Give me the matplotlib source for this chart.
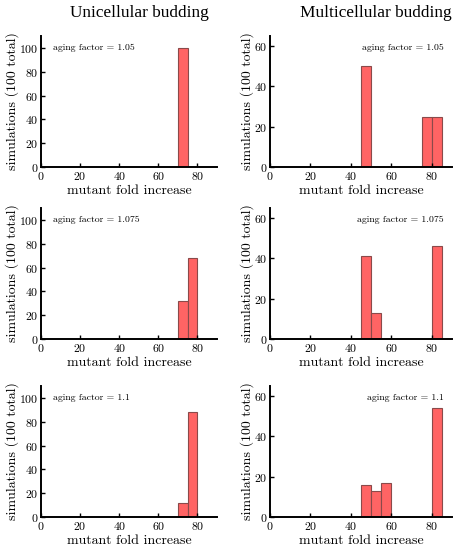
import matplotlib
matplotlib.use("Agg")
import matplotlib.pyplot as plt
import numpy as np

plt.rcParams['font.family'] = 'serif'
plt.rcParams['font.serif'] = ['cmr10']
plt.rcParams['axes.formatter.use_mathtext'] = True
plt.rcParams['mathtext.fontset'] = 'cm'

# bin left edges (width 5) and counts
aging = ['1.05', '1.075', '1.1']

uni_edges = [[70], [70, 75], [70, 75]]
uni_counts = [[100], [32, 68], [12, 88]]

multi_edges = [[45, 75, 80], [45, 50, 80], [45, 50, 55, 80]]
multi_counts = [[50, 25, 25], [41, 13, 46], [16, 13, 17, 54]]

W, H = 459, 550
fig = plt.figure(figsize=(W / 100, H / 100), dpi=100)

# pixel boxes: left, right, top, bottom
rows = [(36, 167), (208, 339), (386, 517)]
cols = [(41, 217, 110, [0, 20, 40, 60, 80, 100], 0),
        (270, 452, 65, [0, 20, 40, 60], 0)]

face = '#ff6464'
edge = '#8a4a4a'

for c, (x0, x1, ymax, yt, ypad) in enumerate(cols):
    for r, (t, b) in enumerate(rows):
        ax = fig.add_axes([x0 / W, 1 - b / H, (x1 - x0) / W, (b - t) / H])
        if c == 0:
            e, v = uni_edges[r], uni_counts[r]
        else:
            e, v = multi_edges[r], multi_counts[r]
        ax.bar(e, v, width=5, align='edge', color=face, edgecolor=edge, linewidth=0.8)
        ax.set_xlim(0, 90)
        ax.set_ylim(0, ymax)
        ax.set_xticks([0, 20, 40, 60, 80])
        ax.set_yticks(yt)
        ax.spines['top'].set_visible(False)
        ax.spines['right'].set_visible(False)
        ax.spines['left'].set_linewidth(1.4)
        ax.spines['bottom'].set_linewidth(1.4)
        ax.tick_params(direction='in', length=3, width=1, labelsize=8.5, pad=2)
        ax.set_xlabel('mutant fold increase', fontsize=10, labelpad=2)
        ax.set_ylabel('simulations (100 total)', fontsize=10, labelpad=ypad)
        txt = 'aging factor = ' + aging[r]
        if c == 0:
            ax.text(0.07, 0.91, txt, transform=ax.transAxes, fontsize=7,
                    ha='left', va='center')
        else:
            ax.text(0.955, 0.91, txt, transform=ax.transAxes, fontsize=7,
                    ha='right', va='center')

fig.text(139 / W, 1 - 13 / H, 'Unicellular budding', ha='center', va='center',
         fontsize=12.4, family='Liberation Serif')
fig.text(376 / W, 1 - 13 / H, 'Multicellular budding', ha='center', va='center',
         fontsize=12.4, family='Liberation Serif')

fig.savefig('out.png', dpi=100)
